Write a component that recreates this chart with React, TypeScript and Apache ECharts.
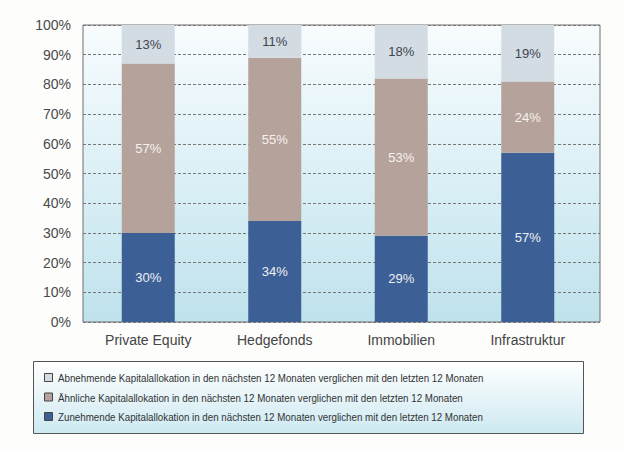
import React, { useEffect, useRef } from "react";
import * as echarts from "echarts";

const categories = ["Private Equity", "Hedgefonds", "Immobilien", "Infrastruktur"];
const seriesNames = [
  "Abnehmende Kapitalallokation in den nächsten 12 Monaten verglichen mit den letzten 12 Monaten",
  "Ähnliche Kapitalallokation in den nächsten 12 Monaten verglichen mit den letzten 12 Monaten",
  "Zunehmende Kapitalallokation in den nächsten 12 Monaten verglichen mit den letzten 12 Monaten",
];
const seriesColors = ["#d3dbe3", "#b4a29b", "#3c5f95"];
const decreasing = [13, 11, 18, 19];
const similar = [57, 55, 53, 24];
const increasing = [30, 34, 29, 57];

const FONT = "Liberation Sans, Arial, Helvetica, sans-serif";

export default function App() {
  const ref = useRef<HTMLDivElement>(null);
  useEffect(() => {
    document.body.style.margin = "0";
    const chart = echarts.init(ref.current!, null, { renderer: "svg" });
    const plotBg = new echarts.graphic.LinearGradient(0, 0, 0, 1, [
      { offset: 0, color: "#f8fcfe" },
      { offset: 0.5, color: "#dcf0f6" },
      { offset: 1, color: "#bfe2ec" },
    ]);
    const legendBg = new echarts.graphic.LinearGradient(0, 0, 0, 1, [
      { offset: 0, color: "#ffffff" },
      { offset: 1, color: "#cde9f1" },
    ]);
    const labelBase = { show: true, position: "inside", fontSize: 13, fontFamily: FONT, formatter: "{c}%" };
    const legendGraphics: any[] = [
      {
        type: "rect", left: 33, top: 361, z: -1,
        shape: { width: 550, height: 72 },
        style: { fill: legendBg, stroke: "#555", lineWidth: 1 },
      },
    ];
    seriesNames.forEach((name, i) => {
      const cy = 378 + i * 19.5;
      legendGraphics.push({
        type: "rect", x: 44.5, y: cy - 4.5, z: 5,
        shape: { width: 8, height: 8 },
        style: { fill: seriesColors[i], stroke: "#444", lineWidth: 1 },
      });
      legendGraphics.push({
        type: "text", x: 58, y: cy, z: 5, scaleX: 0.85,
        style: { text: name, fontSize: 11.5, fontFamily: FONT, fill: "#333", verticalAlign: "middle", align: "left" },
      });
    });
    chart.setOption({
      animation: false,
      backgroundColor: "#fdfdfc",
      textStyle: { fontFamily: FONT },
      grid: [
        { left: 83, top: 25, width: 517, height: 297, show: true, backgroundColor: plotBg, borderColor: "#6f6f6f", borderWidth: 1 },
        { left: 85, top: 25, width: 506, height: 297 },
      ],
      xAxis: [
        { type: "value", gridIndex: 0, show: false, min: 0, max: 1 },
        {
          type: "category", gridIndex: 1, data: categories,
          axisLine: { show: false }, axisTick: { show: false },
          axisLabel: { fontSize: 14, color: "#444", margin: 11, fontFamily: FONT },
        },
      ],
      yAxis: [
        {
          type: "value", gridIndex: 0, min: 0, max: 100, interval: 10,
          axisLine: { show: false }, axisTick: { show: false },
          axisLabel: { formatter: "{value}%", fontSize: 14, color: "#4a4a4a", margin: 12, fontFamily: FONT },
          splitLine: { lineStyle: { type: [3, 2], color: "#777", width: 1 } },
        },
        { type: "value", gridIndex: 1, min: 0, max: 100, show: false, splitLine: { show: false } },
      ],
      graphic: legendGraphics,
      series: [
        {
          name: seriesNames[2], type: "bar", stack: "t", xAxisIndex: 1, yAxisIndex: 1,
          data: increasing, barWidth: 53, itemStyle: { color: seriesColors[2] },
          label: { ...labelBase, color: "#eef0f4" },
        },
        {
          name: seriesNames[1], type: "bar", stack: "t", xAxisIndex: 1, yAxisIndex: 1,
          data: similar, barWidth: 53, itemStyle: { color: seriesColors[1] },
          label: { ...labelBase, color: "#f7f2ee" },
        },
        {
          name: seriesNames[0], type: "bar", stack: "t", xAxisIndex: 1, yAxisIndex: 1,
          data: decreasing, barWidth: 53, itemStyle: { color: seriesColors[0] },
          label: { ...labelBase, color: "#3e4650" },
        },
      ],
    });
    return () => chart.dispose();
  }, []);
  return <div ref={ref} style={{ width: 624, height: 450 }} />;
}
